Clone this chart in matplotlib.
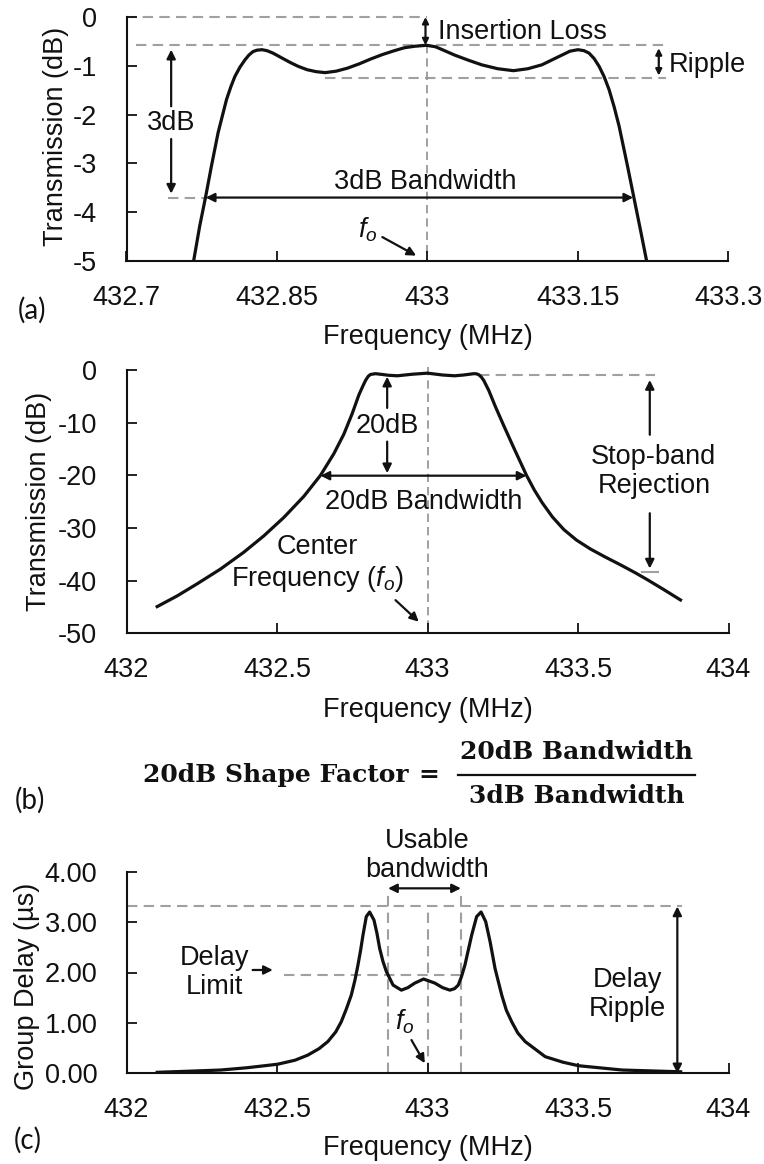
import matplotlib
matplotlib.use('Agg')
import matplotlib.pyplot as plt

plt.rcParams['font.family'] = 'Liberation Sans'
plt.rcParams['mathtext.fontset'] = 'custom'
plt.rcParams['mathtext.rm'] = 'Liberation Sans'
plt.rcParams['mathtext.it'] = 'Liberation Sans:italic'
plt.rcParams['axes.unicode_minus'] = False

# ---- (a) 3dB passband detail ----
freq_a = [432.7669, 432.773, 432.779, 432.7847, 432.7913, 432.7997, 432.804, 432.808,
          432.813, 432.818, 432.822, 432.826, 432.830, 432.835, 432.840, 432.846,
          432.854, 432.863, 432.871, 432.880, 432.889, 432.898, 432.909, 432.920,
          432.932, 432.9435, 432.955, 432.967, 432.977, 432.987, 432.999, 433.008,
          433.017, 433.027, 433.040, 433.054, 433.070, 433.0857, 433.100, 433.114,
          433.124, 433.134, 433.142, 433.150, 433.156, 433.161, 433.166, 433.171,
          433.176, 433.181, 433.186, 433.191, 433.1993, 433.206, 433.2127, 433.2184]
trans_a = [-5.0, -4.28, -3.67, -3.05, -2.37, -1.69, -1.43, -1.22,
           -1.03, -0.88, -0.78, -0.71, -0.68, -0.67, -0.69, -0.74,
           -0.83, -0.93, -1.01, -1.08, -1.12, -1.14, -1.11, -1.05,
           -0.96, -0.86, -0.77, -0.69, -0.63, -0.60, -0.58, -0.61,
           -0.69, -0.78, -0.88, -0.98, -1.06, -1.10, -1.06, -0.98,
           -0.88, -0.78, -0.70, -0.67, -0.69, -0.74, -0.85, -1.01,
           -1.22, -1.49, -1.84, -2.24, -3.05, -3.73, -4.41, -5.0]
xticks_a = [432.7, 432.85, 433.0, 433.15, 433.3]
xtick_labels_a = ['432.7', '432.85', '433', '433.15', '433.3']
yticks_a = [0, -1, -2, -3, -4, -5]
insertion_loss = -0.58
ripple_low = -1.25
level_3db = -3.7
bw3_edges = (432.779, 433.205)

# ---- (b) full transmission ----
freq_b = [432.1019, 432.1683, 432.2348, 432.3123, 432.3898, 432.4562, 432.5227,
          432.5891, 432.6445, 432.6888, 432.7220, 432.7497, 432.7719, 432.7840,
          432.7940, 432.8030, 432.8106, 432.8272, 432.85, 432.87, 432.90, 432.95,
          433.0, 433.05, 433.09, 433.12, 433.1538, 433.1620, 433.1705, 433.1790,
          433.1871, 433.2037, 433.2259, 433.2536, 433.2868, 433.3289, 433.355,
          433.381, 433.415, 433.4529, 433.495, 433.5415, 433.59, 433.6412,
          433.69, 433.7298, 433.785, 433.8405]
trans_b = [-44.93, -42.9, -40.6, -37.8, -34.6, -31.5, -28.0,
           -24.0, -20.0, -15.9, -12.2, -8.3, -4.75, -3.2,
           -2.0, -1.2, -0.85, -0.7, -0.85, -1.0, -1.1, -0.8,
           -0.6, -0.95, -1.1, -0.95, -0.7, -0.72, -0.9, -1.35,
           -2.0, -3.9, -7.0, -10.6, -14.8, -20.0, -22.8,
           -25.2, -27.9, -30.3, -32.3, -34.0, -35.5, -37.0,
           -38.5, -39.8, -41.7, -43.67]
xticks_b = [432, 432.5, 433, 433.5, 434]
xtick_labels_b = ['432', '432.5', '433', '433.5', '434']
yticks_b = [0, -10, -20, -30, -40, -50]
level_20db = -20.07
bw20_edges = (432.6445, 433.3289)
stopband_top = -0.95
stopband_bottom = -38.4

# ---- (c) group delay ----
freq_c = [432.102, 432.20, 432.3133, 432.40, 432.502, 432.56, 432.602, 432.64,
          432.669, 432.695, 432.7133, 432.73, 432.7467, 432.759, 432.769, 432.778,
          432.7856, 432.7967, 432.8078, 432.8222, 432.832, 432.841, 432.852, 432.8633,
          432.8856, 432.9133, 432.935, 432.9578, 432.987, 433.0244, 433.05, 433.0744,
          433.09, 433.1022, 433.113, 433.1244, 433.1467, 433.1633, 433.178, 433.1933,
          433.208, 433.2244, 433.2467, 433.262, 433.28, 433.30, 433.3244, 433.391,
          433.45, 433.5022, 433.6467, 433.841]
delay_c = [0.02, 0.04, 0.065, 0.11, 0.18, 0.26, 0.36, 0.49,
           0.63, 0.82, 1.02, 1.27, 1.55, 1.85, 2.15, 2.45,
           2.74, 3.11, 3.20, 3.04, 2.78, 2.48, 2.22, 2.02,
           1.75, 1.65, 1.70, 1.79, 1.87, 1.79, 1.70, 1.65,
           1.68, 1.75, 1.92, 2.15, 2.74, 3.11, 3.20, 3.01,
           2.61, 2.08, 1.55, 1.25, 1.02, 0.80, 0.63, 0.33,
           0.22, 0.15, 0.065, 0.03]
yticks_c = [0, 1, 2, 3, 4]
ytick_labels_c = ['0.00', '1.00', '2.00', '3.00', '4.00']
delay_max = 3.31
delay_limit = 1.96
usable_edges = (432.869, 433.111)

INK = '#111111'
GRAY = '#a0a0a0'
FS = 19.5

fig = plt.figure(figsize=(7.64, 11.64), dpi=100)
W, H = 764.0, 1164.0


def make_axes(x0, y_top, y_bot, width):
    return fig.add_axes([x0 / W, 1 - y_bot / H, width / W, (y_bot - y_top) / H])


def style(ax):
    for s in ['top', 'right']:
        ax.spines[s].set_visible(False)
    for s in ['left', 'bottom']:
        ax.spines[s].set_linewidth(1.5)
        ax.spines[s].set_color(INK)
    ax.tick_params(direction='in', length=7, width=1.3, labelsize=FS, colors=INK)
    ax.tick_params(axis='x', pad=17)
    ax.tick_params(axis='y', pad=21)


def dash(ax, xs, ys, color=GRAY, lw=1.5):
    ax.plot(xs, ys, color=color, lw=lw, linestyle=(0, (5, 3)), clip_on=False, zorder=1)


def arrow(ax, x0, y0, x1, y1, style='-|>', ms=13):
    ax.annotate('', xy=(x1, y1), xytext=(x0, y0),
                arrowprops=dict(arrowstyle=style, color=INK, lw=1.6,
                                shrinkA=0, shrinkB=0, mutation_scale=ms),
                annotation_clip=False)


def label(ax, x, y, s, ha='center'):
    ax.text(x, y, s, fontsize=FS, color=INK, ha=ha, va='center',
            multialignment='center', linespacing=1.15)


def axis_labels(ax, ylabel, xlab_y, ylab_x, ylab_y):
    ax.set_xlabel('Frequency (MHz)', fontsize=FS, color=INK)
    ax.xaxis.set_label_coords(0.5, xlab_y)
    ax.xaxis.label.set_va('center')
    ax.set_ylabel(ylabel, fontsize=FS, color=INK)
    ax.yaxis.set_label_coords(ylab_x, ylab_y)
    ax.yaxis.label.set_va('center')


# ---------------- panel (a) ----------------
ax = make_axes(126.5, 17, 261, 602)
style(ax)
ax.plot(freq_a, trans_a, color=INK, lw=2.3, zorder=3)
ax.set_xlim(432.7, 433.3)
ax.set_ylim(-5, 0)
ax.set_xticks(xticks_a)
ax.set_xticklabels(xtick_labels_a)
ax.set_yticks(yticks_a)
axis_labels(ax, 'Transmission (dB)', -0.31, -0.117, 0.51)

dash(ax, [432.7, 433.0], [0, 0])
dash(ax, [432.709, 433.2375], [insertion_loss, insertion_loss])
dash(ax, [432.898, 433.2375], [ripple_low, ripple_low])
dash(ax, [433.0, 433.0], [insertion_loss, -5], color='#909090', lw=1.2)
dash(ax, [432.741, bw3_edges[0]], [level_3db, level_3db])
arrow(ax, 432.998, 0, 432.998, insertion_loss, '<|-|>', ms=9)
label(ax, 433.0104, -0.30, 'Insertion Loss', ha='left')
arrow(ax, 433.2305, -0.64, 433.2305, -1.2, '<|-|>', ms=9)
label(ax, 433.2405, -0.98, 'Ripple', ha='left')
label(ax, 432.7445, -2.17, '3dB')
arrow(ax, 432.7445, -1.83, 432.7445, -0.67)
arrow(ax, 432.7445, -2.5, 432.7445, -3.62)
arrow(ax, bw3_edges[0], level_3db, bw3_edges[1], level_3db, '<|-|>')
label(ax, 432.998, -3.39, '3dB Bandwidth')
label(ax, 432.9402, -4.35, '$f_o$')
arrow(ax, 432.955, -4.51, 432.9887, -4.89)

# ---------------- panel (b) ----------------
ax = make_axes(126.5, 370, 633.3, 602)
style(ax)
ax.plot(freq_b, trans_b, color=INK, lw=2.3, zorder=3)
ax.set_xlim(432, 434)
ax.set_ylim(-50, 0)
ax.set_xticks(xticks_b)
ax.set_xticklabels(xtick_labels_b)
ax.set_yticks(yticks_b)
axis_labels(ax, 'Transmission (dB)', -0.291, -0.145, 0.5)

dash(ax, [433.0, 433.0], [0.5, -50], color='#909090', lw=1.2)
dash(ax, [433.17, 433.757], [stopband_top, stopband_top])
arrow(ax, 433.7385, -12.3, 433.7385, -1.9)
arrow(ax, 433.7385, -27.2, 433.7385, -37.7)
ax.plot([433.713, 433.765], [stopband_bottom, stopband_bottom], color=GRAY, lw=1.5)
label(ax, 433.752, -19.25, 'Stop-band\nRejection')
label(ax, 432.866, -10.6, '20dB')
arrow(ax, 432.866, -7.2, 432.866, -1.27)
arrow(ax, 432.866, -13.6, 432.866, -19.6)
arrow(ax, bw20_edges[0], level_20db, bw20_edges[1], level_20db, '<|-|>')
label(ax, 432.988, -25.0, '20dB Bandwidth')
label(ax, 432.6335, -36.85, 'Center\nFrequency ($f_o$)')
arrow(ax, 432.8937, -43.7, 432.971, -47.8)

# ---------------- shape factor formula ----------------
ff = dict(family='DejaVu Serif', weight='bold', fontsize=18, color=INK, va='center')
fig.text(143 / W, 1 - 775 / H, '20dB Shape Factor', ha='left', **ff)
fig.text(429 / W, 1 - 775 / H, '=', ha='center', **ff)
fig.text(577 / W, 1 - 752 / H, '20dB Bandwidth', ha='center', **ff)
fig.text(577 / W, 1 - 796 / H, '3dB Bandwidth', ha='center', **ff)
fig.add_artist(plt.Line2D([458 / W, 695 / W], [1 - 775 / H, 1 - 775 / H],
                          color=INK, lw=1.6, transform=fig.transFigure))

# ---------------- panel (c) ----------------
ax = make_axes(126.5, 871.7, 1073.3, 602)
style(ax)
ax.plot(freq_c, delay_c, color=INK, lw=2.3, zorder=3)
ax.set_xlim(432, 434)
ax.set_ylim(0, 4)
ax.set_xticks(xticks_b)
ax.set_xticklabels(xtick_labels_b)
ax.set_yticks(yticks_c)
ax.set_yticklabels(ytick_labels_c)
axis_labels(ax, 'Group Delay (µs)', -0.371, -0.165, 0.43)

dash(ax, [432, 433.847], [delay_max, delay_max])
dash(ax, [usable_edges[0], usable_edges[0]], [0, 3.57])
dash(ax, [usable_edges[1], usable_edges[1]], [0, 3.57])
dash(ax, [433.0, 433.0], [0, delay_max])
dash(ax, [432.5244, usable_edges[1]], [delay_limit, delay_limit])
arrow(ax, usable_edges[0], 3.67, usable_edges[1], 3.67, '<|-|>')
label(ax, 433.0, 4.33, 'Usable\nbandwidth')
label(ax, 432.291, 2.0, 'Delay\nLimit')
arrow(ax, 432.419, 2.05, 432.486, 2.05)
arrow(ax, 433.83, delay_max, 433.83, 0.0, '<|-|>')
label(ax, 433.663, 1.57, 'Delay\nRipple')
label(ax, 432.924, 1.02, '$f_o$')
arrow(ax, 432.9467, 0.66, 432.991, 0.2)

# panel letters
pl = dict(family='Lato', fontsize=20, color=INK, ha='center', va='center')
fig.text(32 / W, 1 - 310 / H, '(a)', **pl)
fig.text(30 / W, 1 - 800 / H, '(b)', **pl)
fig.text(28 / W, 1 - 1140 / H, '(c)', **pl)

fig.savefig('out.png', dpi=100, facecolor='white')
